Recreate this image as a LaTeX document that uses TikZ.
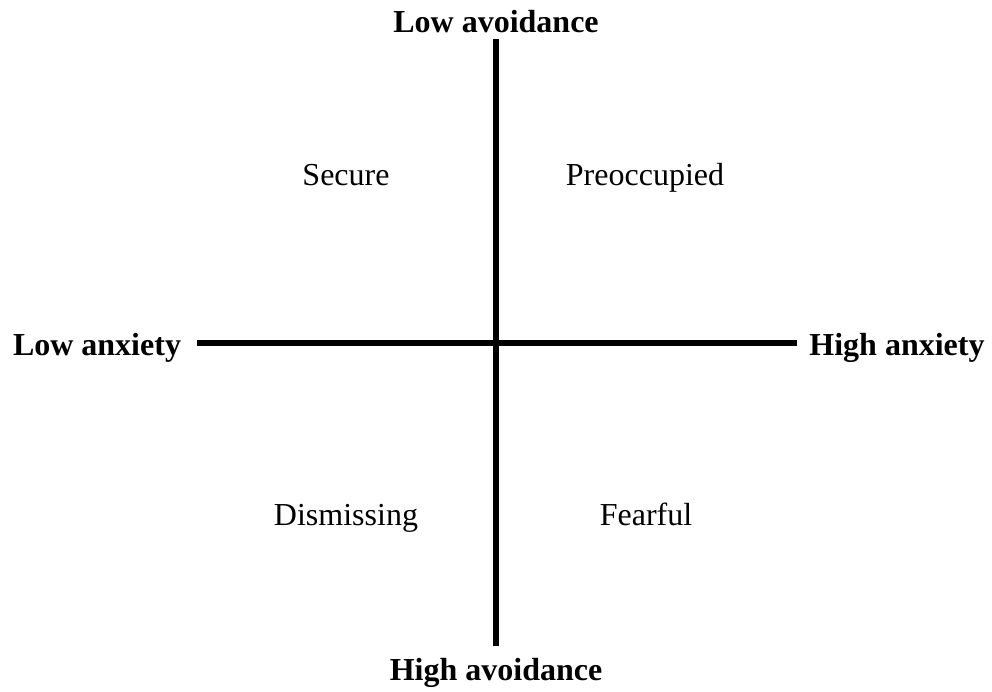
\documentclass[tikz,border=0pt]{standalone}
\usepackage{fontspec}
\setmainfont{Liberation Serif}
\begin{document}
\begin{tikzpicture}[x=1pt,y=-1pt,
  axis/.style={line width=5.5pt},
  pole/.style={font=\fontsize{32}{36}\selectfont\bfseries,anchor=base,inner sep=0pt},
  quad/.style={font=\fontsize{32}{36}\selectfont,anchor=base,inner sep=0pt}]
\useasboundingbox (0,0) rectangle (992,691);
\coordinate (vtop) at (496,39);
\coordinate (vbot) at (496,646);
\coordinate (hleft) at (197,343);
\coordinate (hright) at (797,343);
\draw[axis] (vtop) -- (vbot);
\draw[axis] (hleft) -- (hright);
\node[pole] (lowav) at (496,32) {Low avoidance};
\node[pole] (highav) at (496,680) {High avoidance};
\node[pole] (lowanx) at (97,355) {Low anxiety};
\node[pole] (highanx) at (897,355) {High anxiety};
\node[quad] (secure) at (346,185) {Secure};
\node[quad] (preocc) at (645,185) {Preoccupied};
\node[quad] (dismiss) at (346,525) {Dismissing};
\node[quad] (fearful) at (646,525) {Fearful};
\end{tikzpicture}
\end{document}
